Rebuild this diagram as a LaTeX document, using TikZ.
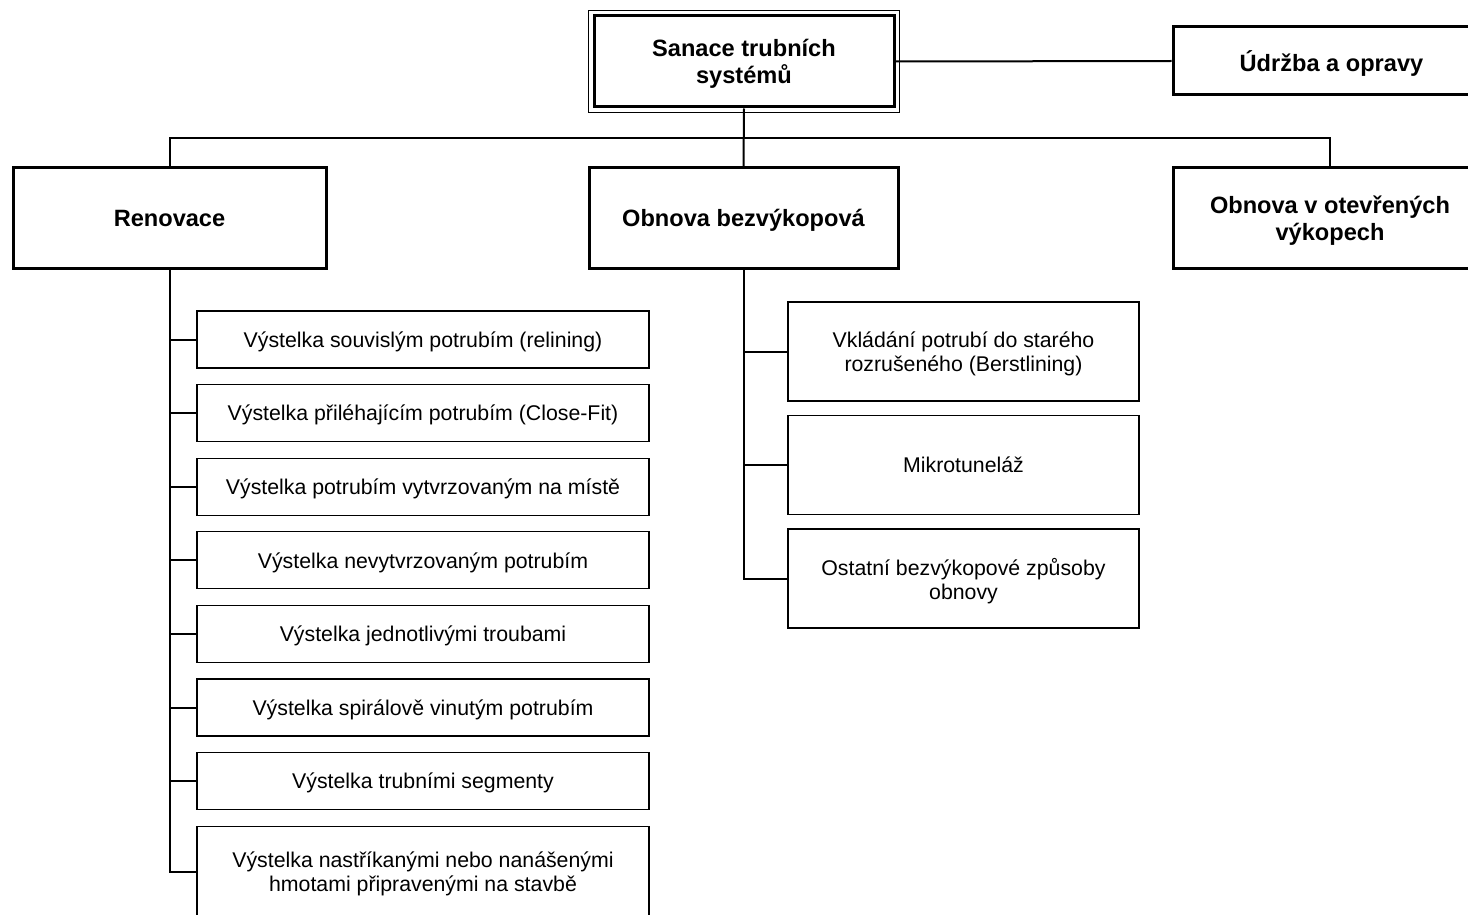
\documentclass[tikz,border=0pt]{standalone}
\usepackage{fontspec}
\setmainfont{Liberation Sans}
\usetikzlibrary{positioning, calc}

\begin{document}
\begin{tikzpicture}[
    x=1pt, y=-1pt,
    mainbox/.style={draw, line width=3pt, fill=white, align=center, font=\fontsize{23.6}{27}\selectfont\bfseries, inner sep=0pt, text depth=0pt},
    subbox/.style={draw, line width=1.2pt, fill=white, align=center, font=\fontsize{21.3}{24}\selectfont, inner sep=0pt, text depth=0pt},
    conn/.style={line width=2pt}
]
\fill[white] (0,0) rectangle (1468,915);
\useasboundingbox (0,0) rectangle (1468,915);

% TOP LEVEL
\node[mainbox, minimum width=300pt, minimum height=91pt] (root) at (744, 61.5) {Sanace trubních\\systémů};
\draw[line width=1.2pt] ($(root.north west)+(-4,-4)$) rectangle ($(root.south east)+(4,4)$);
\node[mainbox, minimum width=317pt, minimum height=68pt] (udrzba) at (1331.5, 61) {Údržba a opravy};

\draw[conn] (root.east) -- (udrzba.west);

% SECOND LEVEL
\coordinate (bus) at (744, 138);
\node[mainbox, minimum width=313pt, minimum height=100pt] (renovace) at (169.5, 218) {Renovace};
\node[mainbox, minimum width=309pt, minimum height=100pt] (bezvykop) at (743.5, 218) {Obnova bezvýkopová};
\node[mainbox, minimum width=314pt, minimum height=100pt] (otevrene) at (1330, 218) {Obnova v otevřených\\výkopech};

\draw[conn] (root.south) -- (bezvykop.north);
\draw[conn] (renovace.north) |- (bus) -| (otevrene.north);

% RENOVACE
\foreach \txt [count=\i] in {Výstelka souvislým potrubím (relining),
    Výstelka přiléhajícím potrubím (Close-Fit),
    Výstelka potrubím vytvrzovaným na místě,
    Výstelka nevytvrzovaným potrubím,
    Výstelka jednotlivými troubami,
    Výstelka spirálově vinutým potrubím,
    Výstelka trubními segmenty}
{
    \node[subbox, minimum width=452pt, minimum height=57pt] (ren\i) at (423, 339.5+73.6*\i-73.6) {\txt};
}
\node[subbox, minimum width=452pt, minimum height=91.6pt] (ren8) at (423, 872) {Výstelka nastříkanými nebo nanášenými\\hmotami připravenými na stavbě};

\draw[conn] (renovace.south) |- (ren8.west);
\foreach \i in {1,...,7}
    \draw[conn] (renovace.south |- ren\i.west) -- (ren\i.west);

% OBNOVA BEZVYKOPOVA
\node[subbox, minimum width=351pt, minimum height=99pt] (bez1) at (963.5, 351.5) {Vkládání potrubí do starého\\rozrušeného (Berstlining)};
\node[subbox, minimum width=351pt, minimum height=99pt] (bez2) at (963.5, 465) {Mikrotuneláž};
\node[subbox, minimum width=351pt, minimum height=99pt] (bez3) at (963.5, 578.5) {Ostatní bezvýkopové způsoby\\obnovy};

\draw[conn] (bezvykop.south) |- (bez3.west);
\draw[conn] (bezvykop.south |- bez1.west) -- (bez1.west);
\draw[conn] (bezvykop.south |- bez2.west) -- (bez2.west);

\end{tikzpicture}
\end{document}
